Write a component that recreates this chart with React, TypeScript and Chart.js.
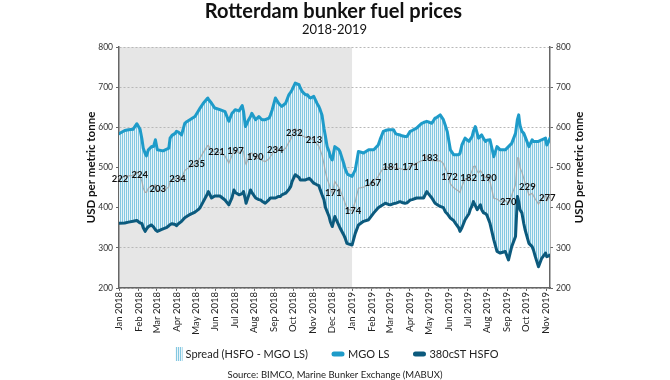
import React, { useEffect, useRef } from 'react';
import { Chart, registerables } from 'chart.js';

Chart.register(...registerables);

// Days since 1 Jan 2018 for each sample
const days = [
  0, 9, 15, 22, 28, 33, 36, 38, 41, 43, 46, 51, 54, 57, 60, 67, 70, 75, 78, 80, 83, 88, 90, 93, 98,
  103, 106, 111, 114, 119, 124, 127, 132, 139, 140, 145, 150, 158, 166,
  172, 177, 180, 182, 188, 193, 195, 198, 199, 203, 206, 208, 214, 219, 222, 224, 229, 235, 237, 240,
  245, 250, 253, 255, 261, 266, 269, 271, 276, 282, 284, 287, 292, 295, 298, 300, 305, 310, 313, 315,
  318, 321, 323, 326, 329, 331, 334,
  338, 344, 346, 352, 354, 357, 359, 365, 370, 375, 383, 391, 399, 406, 409, 414, 417, 422, 425, 430,
  433, 435, 440, 443, 448, 451, 456, 459, 466, 474, 477, 482, 487, 490, 495, 498, 503,
  508, 511, 514, 519, 524, 527, 532, 534, 537, 542, 548, 550, 553, 555, 558, 561, 563, 566, 568, 571,
  574, 576, 581, 587, 592, 597, 605, 610, 615, 621, 624, 626, 628, 631, 634, 636, 642, 647, 649, 652,
  657, 662, 668, 670, 673, 675,
];

const mgoLS = [
  584, 592, 594, 595, 609, 595, 570, 548, 535, 529, 544, 552, 552, 569, 544, 542, 542, 546, 548, 573, 580, 585, 590, 588, 581,
  610, 614, 619, 622, 627, 640, 648, 660, 673, 670, 660, 648, 644, 639,
  615, 635, 640, 644, 641, 654, 640, 602, 605, 619, 627, 635, 619, 627, 622, 619, 619, 623, 630, 644,
  673, 660, 655, 652, 660, 681, 688, 693, 710, 706, 698, 689, 681, 681, 675, 673, 677, 660, 652, 644,
  630, 598, 580, 552, 540, 527, 519,
  552, 545, 540, 510, 498, 486, 482, 478, 494, 540, 536, 544, 544, 556, 570, 590, 592, 594, 594, 594,
  585, 583, 581, 579, 577, 577, 590, 592, 598, 610, 612, 615, 612, 610, 623, 625, 631,
  619, 605, 590, 544, 532, 532, 532, 535, 556, 573, 565, 570, 577, 590, 602, 585, 573, 578, 581, 572,
  565, 568, 569, 527, 552, 544, 544, 552, 560, 585, 620, 631, 605, 590, 585, 577, 552, 569, 565, 565,
  565, 569, 573, 556, 565, 573,
];

const hsfo380 = [
  361, 362, 364, 366, 368, 362, 360, 350, 341, 347, 353, 357, 352, 345, 341, 346, 348, 351, 355, 358, 360, 358, 355, 360, 366,
  375, 378, 383, 385, 389, 395, 400, 415, 436, 440, 424, 429, 429, 419,
  407, 425, 444, 438, 432, 435, 440, 420, 411, 430, 444, 438, 424, 420, 419, 416, 411, 420, 424, 424,
  424, 428, 428, 432, 436, 445, 453, 465, 482, 475, 469, 469, 469, 471, 473, 470, 461, 457, 455, 445,
  432, 420, 402, 390, 378, 365, 353,
  378, 357, 350, 332, 325, 311, 310, 307, 336, 357, 366, 370, 387, 400, 403, 408, 411, 408, 407, 410,
  411, 412, 415, 413, 411, 412, 419, 420, 424, 424, 424, 440, 430, 424, 411, 408, 403,
  400, 390, 385, 374, 368, 361, 350, 341, 350, 370, 385, 395, 405, 415, 405, 395, 400, 407, 395, 387,
  385, 382, 361, 320, 291, 287, 291, 270, 303, 328, 428, 415, 395, 387, 360, 345, 311, 303, 295, 278,
  253, 274, 287, 278, 280, 282,
];

const monthStarts = [0, 31, 59, 90, 120, 151, 181, 212, 243, 273, 304, 334, 365, 396, 424, 455, 485, 516, 546, 577, 608, 638, 669];
const monthLabels = [
  'Jan 2018', 'Feb 2018', 'Mar 2018', 'Apr 2018', 'May 2018', 'Jun 2018', 'Jul 2018', 'Aug 2018', 'Sep 2018', 'Oct 2018', 'Nov 2018', 'Dec 2018',
  'Jan 2019', 'Feb 2019', 'Mar 2019', 'Apr 2019', 'May 2019', 'Jun 2019', 'Jul 2019', 'Aug 2019', 'Sep 2019', 'Oct 2019', 'Nov 2019',
];
const spreadLabels = [222, 224, 203, 234, 235, 221, 197, 190, 234, 232, 213, 171, 174, 167, 181, 171, 183, 172, 182, 190, 270, 229, 277];

const yTicks = [200, 300, 400, 500, 600, 700, 800];
const shadedUntilDay = 365;

const TITLE = 'Rotterdam bunker fuel prices';
const SUBTITLE = '2018-2019';
const Y_TITLE = 'USD per metric tonne';
const SOURCE = 'Source: BIMCO, Marine Bunker Exchange (MABUX)';
const LEGEND = ['Spread (HSFO - MGO LS)', 'MGO LS', '380cST HSFO'];

const MGO_COLOR = '#1e9bc9';
const HSFO_COLOR = '#0c5a7d';
const FONT = 'Lato, "Open Sans", sans-serif';

export default function App() {
  const ref = useRef<HTMLCanvasElement>(null);

  useEffect(() => {
    document.body.style.margin = '0';
    const canvas = ref.current!;
    const pc = document.createElement('canvas');
    pc.width = 2;
    pc.height = 1;
    const pctx = pc.getContext('2d')!;
    pctx.fillStyle = '#e8f4f9';
    pctx.fillRect(0, 0, 2, 1);
    pctx.fillStyle = '#84c8e1';
    pctx.fillRect(0, 0, 1, 1);
    const stripe = canvas.getContext('2d')!.createPattern(pc, 'repeat')!;

    const mgoPts = days.map((d, i) => ({ x: d, y: mgoLS[i] }));
    const hsfoPts = days.map((d, i) => ({ x: d, y: hsfo380[i] }));
    const midPts = days.map((d, i) => ({ x: d, y: (mgoLS[i] + hsfo380[i]) / 2 }));

    const midAt = (day: number) => {
      for (let i = 0; i < midPts.length - 1; i++) {
        const a = midPts[i], b = midPts[i + 1];
        if (day >= a.x && day <= b.x) {
          const t = b.x === a.x ? 0 : (day - a.x) / (b.x - a.x);
          return a.y + t * (b.y - a.y);
        }
      }
      return midPts[midPts.length - 1].y;
    };

    const bgPlugin = {
      id: 'bg',
      beforeDraw(chart: any) {
        const { ctx, chartArea, scales } = chart;
        ctx.save();
        ctx.fillStyle = '#ffffff';
        ctx.fillRect(0, 0, chart.width, chart.height);
        const x0 = scales.x.getPixelForValue(0);
        const x1 = scales.x.getPixelForValue(shadedUntilDay);
        ctx.fillStyle = '#e6e6e6';
        ctx.fillRect(x0, chartArea.top, x1 - x0, chartArea.bottom - chartArea.top);
        ctx.restore();
      },
    };

    const labelPlugin = {
      id: 'spreadLabels',
      afterDatasetsDraw(chart: any) {
        const { ctx, scales } = chart;
        ctx.save();
        ctx.font = `bold 9.5px ${FONT}`;
        ctx.fillStyle = '#111';
        ctx.textAlign = 'center';
        ctx.textBaseline = 'middle';
        monthStarts.forEach((d, i) => {
          const x = scales.x.getPixelForValue(d);
          const y = scales.y.getPixelForValue(midAt(d));
          ctx.fillText(String(spreadLabels[i]), x + 1, y);
        });
        ctx.restore();
      },
    };

    const textPlugin = {
      id: 'texts',
      afterDraw(chart: any) {
        const { ctx, chartArea } = chart;
        const cx = (chartArea.left + chartArea.right) / 2;
        const cy = (chartArea.top + chartArea.bottom) / 2;
        ctx.save();
        ctx.fillStyle = '#111';
        ctx.textAlign = 'center';
        ctx.textBaseline = 'middle';
        ctx.font = `bold 20px ${FONT}`;
        ctx.fillText(TITLE, cx - 1, 12);
        ctx.font = `13px ${FONT}`;
        ctx.fillText(SUBTITLE, cx, 30);

        ctx.font = `bold 11.5px ${FONT}`;
        ctx.save();
        ctx.translate(91, cy);
        ctx.rotate(-Math.PI / 2);
        ctx.fillText(Y_TITLE, 0, 0);
        ctx.restore();
        ctx.save();
        ctx.translate(579, cy);
        ctx.rotate(-Math.PI / 2);
        ctx.fillText(Y_TITLE, 0, 0);
        ctx.restore();

        // legend
        ctx.font = `11px ${FONT}`;
        ctx.textAlign = 'left';
        const ly = 354;
        const w0 = ctx.measureText(LEGEND[0]).width;
        const w1 = ctx.measureText(LEGEND[1]).width;
        const w2 = ctx.measureText(LEGEND[2]).width;
        const iconS = 7, iconL = 12, gapIT = 4, gapItems = 24;
        const total = iconS + 3 + w0 + gapItems + iconL + gapIT + w1 + gapItems + iconL + gapIT + w2;
        let x = 337 - total / 2;
        ctx.fillStyle = stripe;
        ctx.fillRect(x, ly - 7, iconS, 14);
        x += iconS + 3;
        ctx.fillStyle = '#222';
        ctx.fillText(LEGEND[0], x, ly);
        x += w0 + gapItems;
        ctx.lineCap = 'round';
        ctx.lineWidth = 5;
        ctx.strokeStyle = MGO_COLOR;
        ctx.beginPath();
        ctx.moveTo(x + 2, ly);
        ctx.lineTo(x + iconL - 2, ly);
        ctx.stroke();
        x += iconL + gapIT;
        ctx.fillText(LEGEND[1], x, ly);
        x += w1 + gapItems;
        ctx.strokeStyle = HSFO_COLOR;
        ctx.beginPath();
        ctx.moveTo(x + 2, ly);
        ctx.lineTo(x + iconL - 2, ly);
        ctx.stroke();
        x += iconL + gapIT;
        ctx.fillText(LEGEND[2], x, ly);

        ctx.textAlign = 'center';
        ctx.font = `9.5px ${FONT}`;
        ctx.fillText(SOURCE, 335, 375);
        ctx.restore();
      },
    };

    const yAxisCommon = {
      type: 'linear' as const,
      min: 200,
      max: 800,
      afterBuildTicks: (s: any) => {
        s.ticks = yTicks.map((v) => ({ value: v }));
      },
      ticks: { font: { size: 8.5, family: FONT }, color: '#333', padding: 3 },
      border: { display: true, color: '#666', width: 1.5 },
    };

    const chart = new Chart(canvas, {
      type: 'line',
      data: {
        datasets: [
          {
            label: LEGEND[0],
            data: mgoPts,
            borderWidth: 0,
            pointRadius: 0,
            fill: 2,
            backgroundColor: stripe,
            order: 4,
          } as any,
          {
            label: LEGEND[1],
            data: mgoPts,
            borderColor: MGO_COLOR,
            borderWidth: 3,
            pointRadius: 0,
            fill: false,
            borderJoinStyle: 'round',
            borderCapStyle: 'round',
            order: 1,
          },
          {
            label: LEGEND[2],
            data: hsfoPts,
            borderColor: HSFO_COLOR,
            borderWidth: 3,
            pointRadius: 0,
            fill: false,
            borderJoinStyle: 'round',
            borderCapStyle: 'round',
            order: 2,
          },
          {
            label: 'mid',
            data: midPts,
            borderColor: 'rgba(165,165,165,0.85)',
            borderWidth: 1.2,
            pointRadius: 0,
            fill: false,
            order: 3,
          },
        ],
      },
      options: {
        responsive: false,
        animation: false,
        devicePixelRatio: 1,
        layout: { padding: { top: 47, left: 0, right: 0, bottom: 0 } },
        plugins: {
          legend: { display: false },
          title: { display: false },
          tooltip: { enabled: false },
        },
        scales: {
          x: {
            type: 'linear',
            min: 0,
            max: 675,
            afterBuildTicks: (s: any) => {
              s.ticks = monthStarts.map((v) => ({ value: v }));
            },
            afterFit: (s: any) => {
              s.height = 92;
            },
            ticks: {
              autoSkip: false,
              maxRotation: 90,
              minRotation: 90,
              padding: 1,
              font: { size: 9.5, family: FONT },
              color: '#222',
              callback: (_v: any, i: number) => monthLabels[i],
            },
            grid: { drawOnChartArea: false, tickLength: 3, color: '#666', tickColor: '#666' },
            border: { display: true, color: '#666', width: 1.5 },
          },
          y: {
            ...yAxisCommon,
            position: 'left',
            afterFit: (s: any) => {
              s.width = 119;
            },
            grid: {
              drawOnChartArea: true,
              color: '#b8b8b8',
              tickLength: 3,
              tickColor: '#666',
              tickBorderDash: [],
            },
            border: { display: true, color: '#666', width: 1.5, dash: [2, 2] },
          },
          y2: {
            ...yAxisCommon,
            position: 'right',
            afterFit: (s: any) => {
              s.width = 120;
            },
            grid: { drawOnChartArea: false, tickLength: 3, tickColor: '#666' },
          },
        },
      } as any,
      plugins: [bgPlugin, labelPlugin, textPlugin],
    });

    return () => chart.destroy();
  }, []);

  return (
    <div style={{ width: 670, height: 380 }}>
      <canvas ref={ref} width={670} height={380} style={{ display: 'block' }} />
    </div>
  );
}
